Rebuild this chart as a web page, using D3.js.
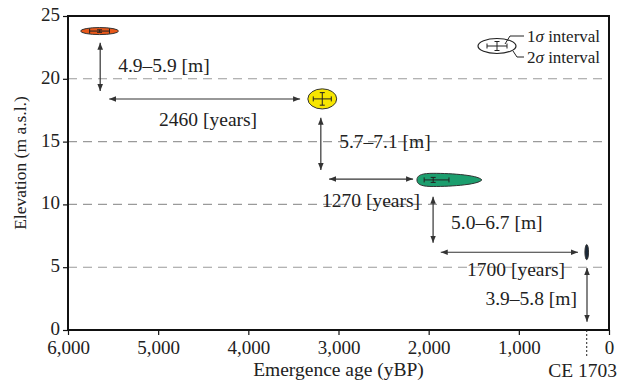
<!DOCTYPE html>
<html><head><meta charset="utf-8">
<script src="https://cdn.jsdelivr.net/npm/d3@7"></script>
<style>
body{margin:0;background:#fff;}
text{font-family:"Liberation Serif","Times New Roman",serif;fill:#222;}
</style></head>
<body><svg id="c" width="619" height="383"></svg>
<script>
// ---- data ----
const xTicks = [6000,5000,4000,3000,2000,1000,0];
const yTicks = [0,5,10,15,20,25];
const gridLevels = [5,10,15,20];
// samples: age (yBP), elevation (m); 2σ extents; 1σ extents
const sampleNames = ["A","B","C","D"];
const sampleAge   = [5650, 3180, 1950, 247];
const sampleElev  = [23.8, 18.4, 11.95, 6.2];
const sigma2AgeOld   = [5860, 3340, 2130, 267];
const sigma2AgeYoung = [5440, 3020, 1410, 227];
const sigma2ElevLo   = [23.52, 17.6, 11.43, 5.6];
const sigma2ElevHi   = [24.08, 19.2, 12.47, 6.8];
const sigma1AgeOld   = [5760, 3280, 2050, null];
const sigma1AgeYoung = [5540, 3080, 1775, null];
const sigma1ElevLo   = [23.7, 17.9, 11.75, null];
const sigma1ElevHi   = [23.9, 18.9, 12.15, null];
const sampleColors = ["#e8581a","#f7e600","#1c9e6e","#1a2838"];
const sampleShape  = ["ellipse","ellipse","tear","ellipse"];
// elevation-change arrows (vertical) and time-gap arrows (horizontal)
const vArrowAge  = [5643, 3196, 1951, 244];
const vArrowTop  = [22.87, 16.9, 10.61, 4.94];
const vArrowBot  = [19.03, 12.74, 6.95, 0.66];
const vLabels    = ["4.9–5.9 [m]","5.7–7.1 [m]","5.0–6.7 [m]","3.9–5.8 [m]"];
const vLabelAge  = [5443, 2993, 1752, 1370];
const vLabelElev = [21.1, 15.0, 8.62, 2.55];
const hArrowElev = [18.39, 12.02, 6.19];
const hArrowOld  = [5543, 3104, 1866];
const hArrowYoung= [3426, 2173, 344];
const hLabels    = ["2460 [years]","1270 [years]","1700 [years]"];
const hLabelAge  = [4446, 2639, 1031];
const hLabelElev = [16.8, 10.35, 4.83];
const ceAge = 247, ceLabel = "CE 1703";
const xTitle = "Emergence age (yBP)", yTitle = "Elevation (m a.s.l.)";
const legendLabels = [["1","σ"," interval"],["2","σ"," interval"]];

// ---- layout ----
const W=619,H=383, m={l:68,r:10,t:16,b:53};
const svg=d3.select("#c");
const x=d3.scaleLinear().domain([6000,0]).range([m.l,W-m.r]);
const y=d3.scaleLinear().domain([0,25]).range([H-m.b,m.t]);
const FS=19.5;

// arrow marker
const defs=svg.append("defs");
defs.append("marker").attr("id","ah").attr("viewBox","0 0 10 10").attr("refX",10).attr("refY",5)
  .attr("markerWidth",7).attr("markerHeight",7).attr("markerUnits","userSpaceOnUse").attr("orient","auto-start-reverse")
  .append("path").attr("d","M0,1 L10,5 L0,9 Z").attr("fill","#333");

// grid
svg.append("g").selectAll("line").data(gridLevels).join("line")
  .attr("x1",x(6000)).attr("x2",x(0)).attr("y1",d=>y(d)).attr("y2",d=>y(d))
  .attr("stroke","#9a9a9a").attr("stroke-width",1.1).attr("stroke-dasharray","9,6");

// axes
const gx=svg.append("g").attr("transform",`translate(0,${y(0)})`)
  .call(d3.axisBottom(x).tickValues(xTicks).tickFormat(d3.format(",")).tickSize(5).tickPadding(6));
const gy=svg.append("g").attr("transform",`translate(${x(6000)},0)`)
  .call(d3.axisLeft(y).tickValues(yTicks).tickSize(5).tickPadding(3));
[gx,gy].forEach(g=>{g.select(".domain").remove();
  g.selectAll(".tick line").attr("stroke","#111").attr("stroke-width",1.2);
  g.selectAll("text").attr("font-size",19).attr("font-family","Liberation Serif").attr("fill","#222");});
gy.selectAll(".tick text").attr("dy","0.24em");
// frame
svg.append("rect").attr("x",x(6000)).attr("y",y(25)).attr("width",x(0)-x(6000)).attr("height",y(0)-y(25))
  .attr("fill","none").attr("stroke","#111").attr("stroke-width",2);

// titles
svg.append("text").attr("x",(x(6000)+x(0))/2).attr("y",376).attr("text-anchor","middle").attr("font-size",FS).text(xTitle);
svg.append("text").attr("transform",`translate(26,${(y(0)+y(25))/2-10}) rotate(-90)`).attr("text-anchor","middle").attr("font-size",17.5).text(yTitle);

// CE 1703
svg.append("line").attr("x1",x(ceAge)).attr("x2",x(ceAge)).attr("y1",y(0)).attr("y2",y(0)+26)
  .attr("stroke","#222").attr("stroke-width",1).attr("stroke-dasharray","2,2");
svg.append("text").attr("x",x(ceAge)-4).attr("y",377).attr("text-anchor","middle").attr("font-size",FS).text(ceLabel);

// arrows
const ga=svg.append("g").attr("stroke","#333").attr("stroke-width",1.2);
vArrowAge.forEach((a,i)=>ga.append("line").attr("x1",x(a)).attr("x2",x(a)).attr("y1",y(vArrowTop[i])).attr("y2",y(vArrowBot[i]))
  .attr("marker-start","url(#ah)").attr("marker-end","url(#ah)"));
hArrowElev.forEach((e,i)=>ga.append("line").attr("x1",x(hArrowOld[i])).attr("x2",x(hArrowYoung[i])).attr("y1",y(e)).attr("y2",y(e))
  .attr("marker-start","url(#ah)").attr("marker-end","url(#ah)"));
vLabels.forEach((t,i)=>svg.append("text").attr("x",x(vLabelAge[i])).attr("y",y(vLabelElev[i])).attr("dy","0.35em")
  .attr("text-anchor","start").attr("font-size",FS).text(t));
hLabels.forEach((t,i)=>svg.append("text").attr("x",x(hLabelAge[i])).attr("y",y(hLabelElev[i])).attr("dy","0.35em")
  .attr("text-anchor","middle").attr("font-size",FS).text(t));

// samples
const gs=svg.append("g");
sampleNames.forEach((n,i)=>{
  const xo=x(sigma2AgeOld[i]), xy=x(sigma2AgeYoung[i]), yl=y(sigma2ElevLo[i]), yh=y(sigma2ElevHi[i]);
  const cy=y(sampleElev[i]);
  if(sampleShape[i]==="ellipse"){
    gs.append("ellipse").attr("cx",(xo+xy)/2).attr("cy",(yl+yh)/2).attr("rx",(xy-xo)/2).attr("ry",(yl-yh)/2)
      .attr("fill",sampleColors[i]).attr("stroke","#333").attr("stroke-width",1);
  } else {
    const w=xy-xo, hh=(yl-yh)/2, cc=(yl+yh)/2;
    const p=d3.path();
    p.moveTo(xy,cc);
    p.bezierCurveTo(xy-w*0.06,cc-hh*0.8, xo+w*0.45,cc-hh*1.05, xo+w*0.2,cc-hh);
    p.bezierCurveTo(xo+w*0.05,cc-hh*0.95, xo,cc-hh*0.6, xo,cc);
    p.bezierCurveTo(xo,cc+hh*0.6, xo+w*0.05,cc+hh*0.95, xo+w*0.2,cc+hh);
    p.bezierCurveTo(xo+w*0.45,cc+hh*1.05, xy-w*0.06,cc+hh*0.8, xy,cc);
    p.closePath();
    gs.append("path").attr("d",p.toString()).attr("fill",sampleColors[i]).attr("stroke","#333").attr("stroke-width",1);
  }
  if(sigma1AgeOld[i]!=null){
    const g=gs.append("g").attr("stroke","#222").attr("stroke-width",1);
    const a0=x(sigma1AgeOld[i]), a1=x(sigma1AgeYoung[i]), e0=y(sigma1ElevLo[i]), e1=y(sigma1ElevHi[i]), cx=x(sampleAge[i]);
    g.append("line").attr("x1",a0).attr("x2",a1).attr("y1",cy).attr("y2",cy);
    g.append("line").attr("x1",a0).attr("x2",a0).attr("y1",cy-2.5).attr("y2",cy+2.5);
    g.append("line").attr("x1",a1).attr("x2",a1).attr("y1",cy-2.5).attr("y2",cy+2.5);
    g.append("line").attr("x1",cx).attr("x2",cx).attr("y1",e0).attr("y2",e1);
    g.append("line").attr("x1",cx-2.5).attr("x2",cx+2.5).attr("y1",e0).attr("y2",e0);
    g.append("line").attr("x1",cx-2.5).attr("x2",cx+2.5).attr("y1",e1).attr("y2",e1);
  }
});

// legend
const lg=svg.append("g");
const lx=497, ly=46;
lg.append("ellipse").attr("cx",lx).attr("cy",ly).attr("rx",19).attr("ry",7.5).attr("fill","#fff").attr("stroke","#222").attr("stroke-width",1.2);
const lc=lg.append("g").attr("stroke","#222").attr("stroke-width",1);
lc.append("line").attr("x1",lx-10).attr("x2",lx+10).attr("y1",ly).attr("y2",ly);
lc.append("line").attr("x1",lx-10).attr("x2",lx-10).attr("y1",ly-2.5).attr("y2",ly+2.5);
lc.append("line").attr("x1",lx+10).attr("x2",lx+10).attr("y1",ly-2.5).attr("y2",ly+2.5);
lc.append("line").attr("x1",lx).attr("x2",lx).attr("y1",ly-4.5).attr("y2",ly+4.5);
lc.append("line").attr("x1",lx-2.5).attr("x2",lx+2.5).attr("y1",ly-4.5).attr("y2",ly-4.5);
lc.append("line").attr("x1",lx-2.5).attr("x2",lx+2.5).attr("y1",ly+4.5).attr("y2",ly+4.5);
lc.append("polyline").attr("points",`${lx+8},${ly-2} ${lx+13},${ly-10} ${lx+27},${ly-10}`).attr("fill","none");
lc.append("polyline").attr("points",`${lx+16},${ly+5} ${lx+20},${ly+11} ${lx+27},${ly+11}`).attr("fill","none");
const lt=lg.selectAll("text").data(legendLabels).join("text").attr("x",lx+30).attr("y",(d,i)=>ly-10+i*21).attr("dy","0.35em")
  .attr("font-size",17);
lt.selectAll("tspan").data(d=>d).join("tspan").attr("font-style",(d,j)=>j===1?"italic":null).text(d=>d);
</script></body></html>
